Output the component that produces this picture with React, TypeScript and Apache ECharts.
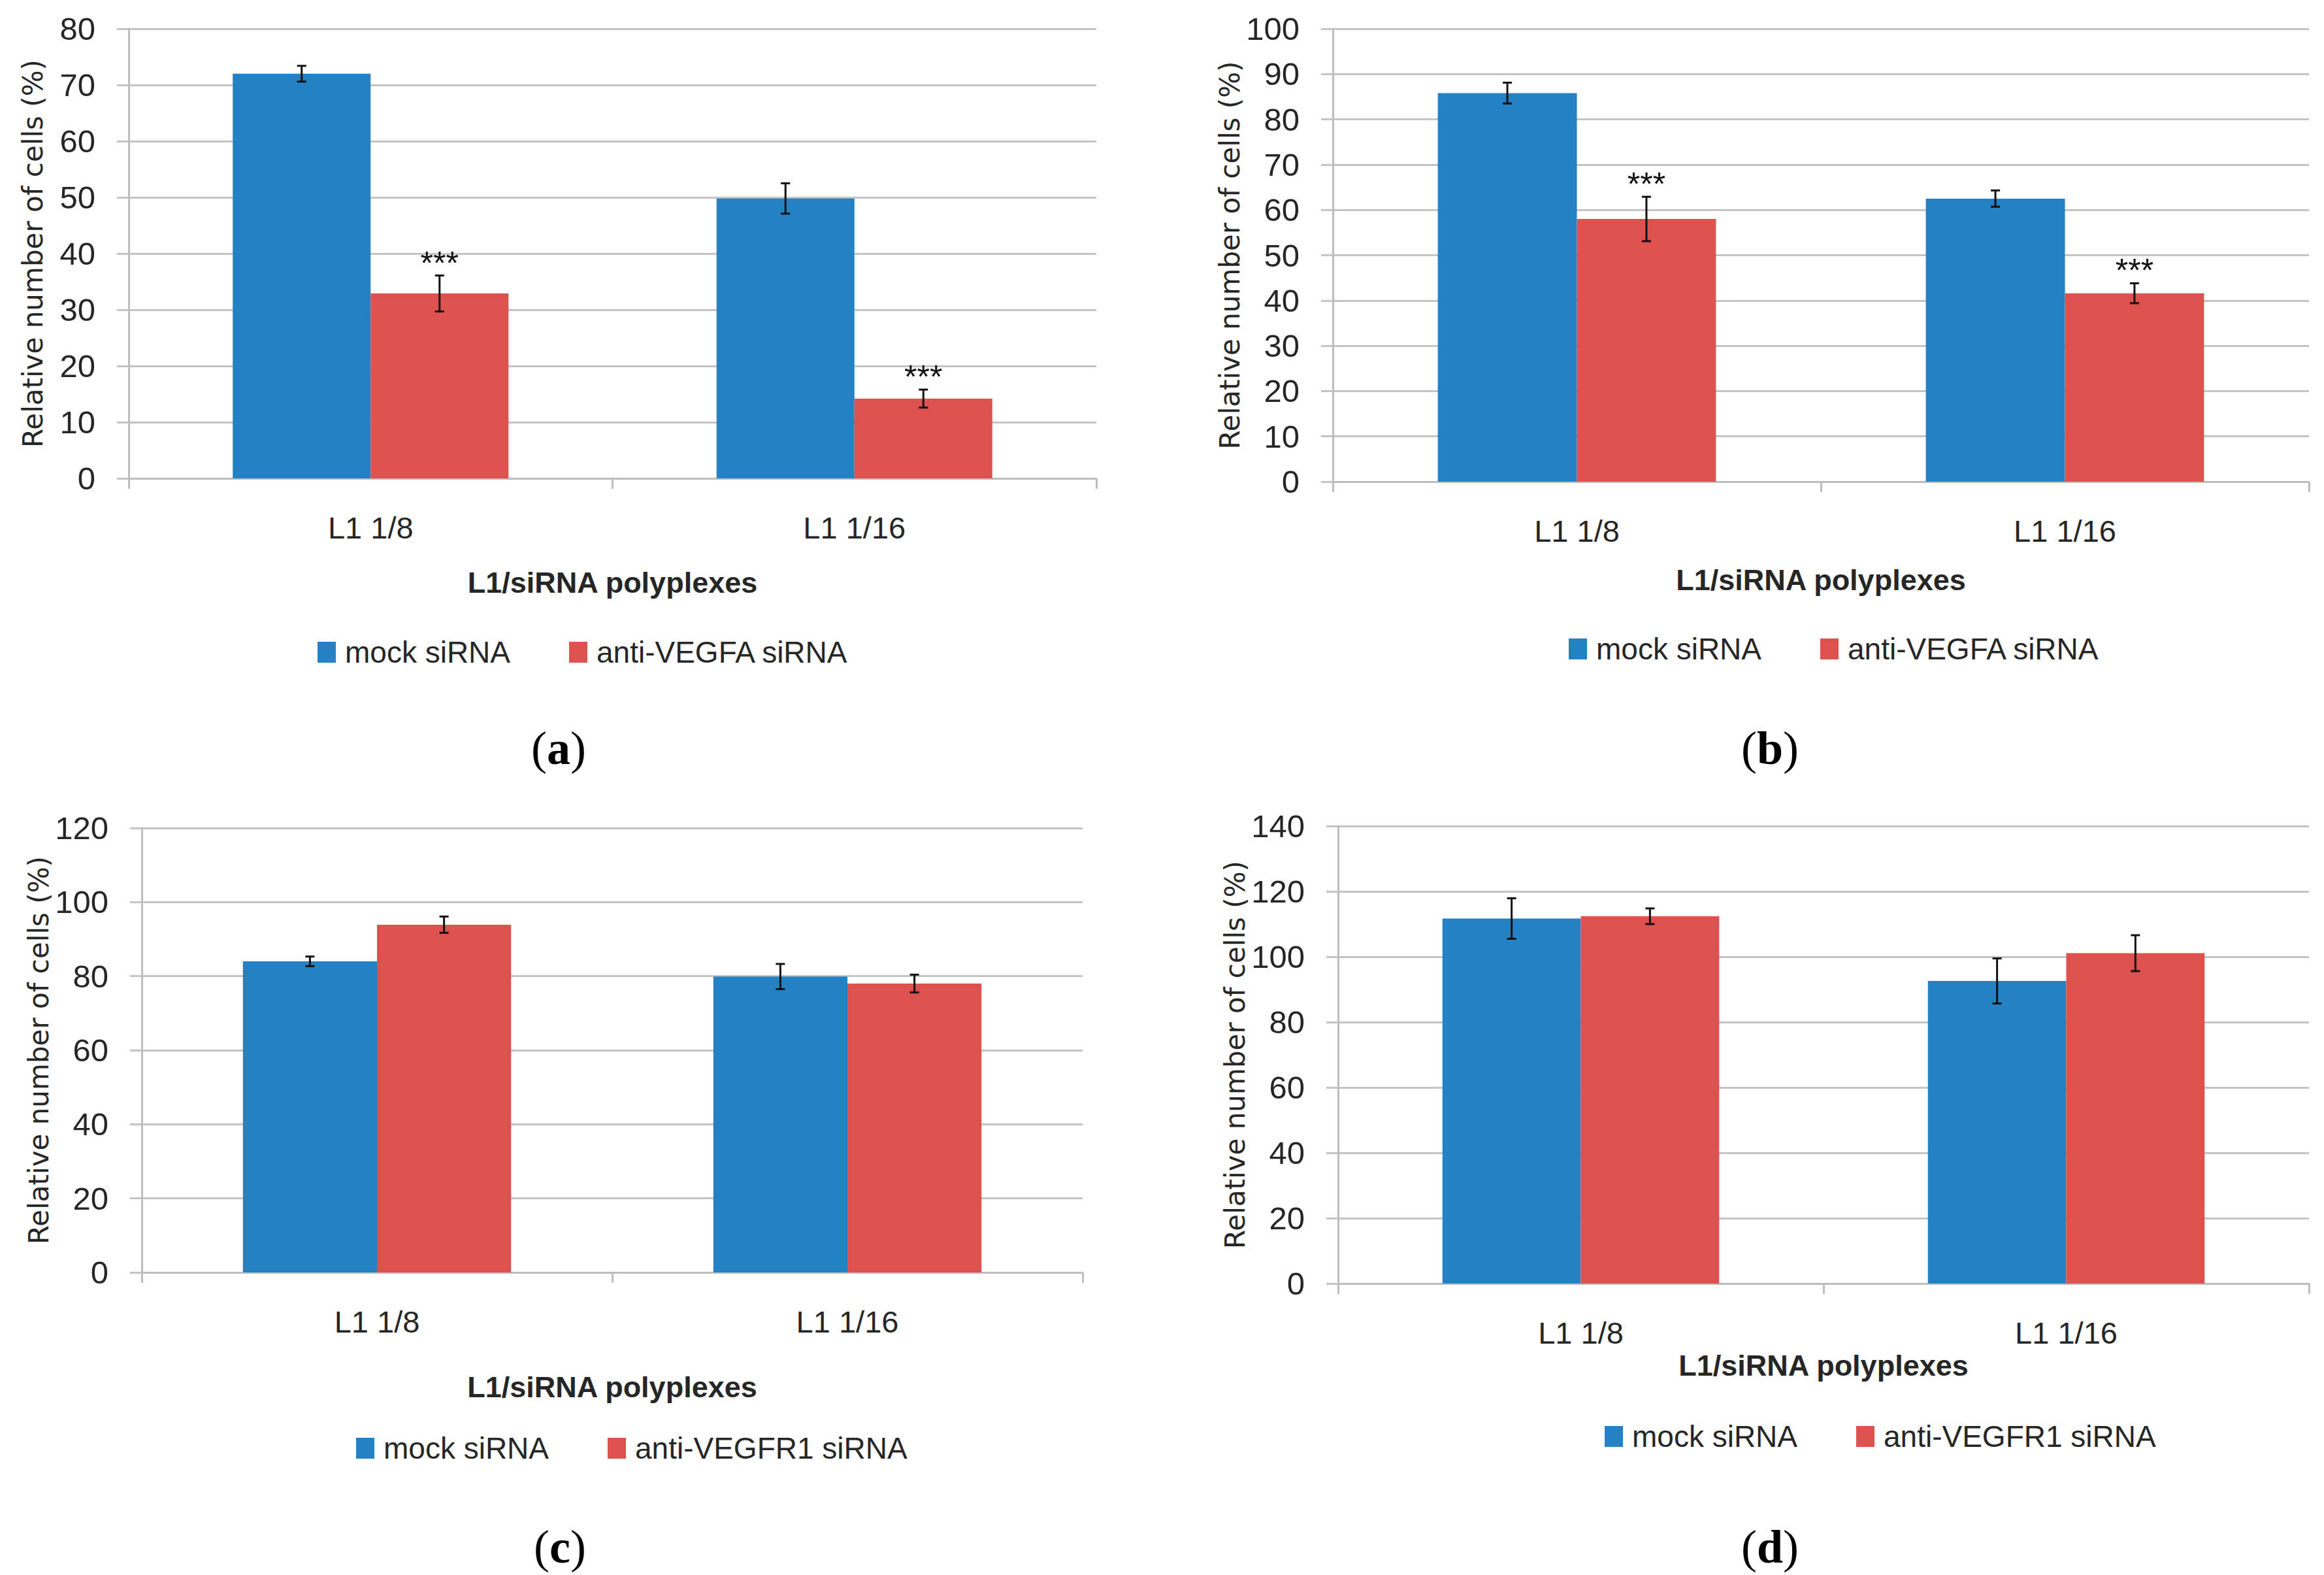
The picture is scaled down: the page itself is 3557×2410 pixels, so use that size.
import React, { useEffect, useRef } from "react";
import * as echarts from "echarts";

const categories = ["L1 1/8", "L1 1/16"];

const mockA = [72.0, 49.8];
const antiA = [32.9, 14.2];
const mockAErr = [1.4, 2.7];
const antiAErr = [3.2, 1.6];
const sigA = ["***", "***"];

const mockB = [85.8, 62.5];
const antiB = [58.0, 41.6];
const mockBErr = [2.3, 1.8];
const antiBErr = [4.9, 2.2];
const sigB = ["***", "***"];

const mockC = [84.0, 79.9];
const antiC = [93.9, 78.0];
const mockCErr = [1.3, 3.4];
const antiCErr = [2.2, 2.4];
const sigC = ["", ""];

const mockD = [111.7, 92.6];
const antiD = [112.4, 101.1];
const mockDErr = [6.2, 6.9];
const antiDErr = [2.4, 5.5];
const sigD = ["", ""];

const yMax = [80, 100, 120, 140];
const yInterval = [10, 10, 20, 20];
const mockName = "mock siRNA";
const antiNames = ["anti-VEGFA siRNA", "anti-VEGFA siRNA", "anti-VEGFR1 siRNA", "anti-VEGFR1 siRNA"];
const panelLetters = ["a", "b", "c", "d"];
const yAxisName = "Relative number of cells (%)";
const xAxisName = "L1/siRNA polyplexes";

const BLUE = "#2481C3";
const RED = "#DD514E";
const NARROW = "'Liberation Sans', Arial, sans-serif";
const WIDE = "'DejaVu Sans', Verdana, sans-serif";
const TXT = "#262626";

const panels = [
  { mock: mockA, anti: antiA, mockErr: mockAErr, antiErr: antiAErr, sig: sigA },
  { mock: mockB, anti: antiB, mockErr: mockBErr, antiErr: antiBErr, sig: sigB },
  { mock: mockC, anti: antiC, mockErr: mockCErr, antiErr: antiCErr, sig: sigC },
  { mock: mockD, anti: antiD, mockErr: mockDErr, antiErr: antiDErr, sig: sigD },
];

// layout (pixels)
const grids = [
  { left: 197, top: 44, width: 1481, height: 688 },
  { left: 2040, top: 44, width: 1494, height: 693 },
  { left: 217, top: 1267, width: 1440, height: 680 },
  { left: 2048, top: 1264, width: 1486, height: 700 },
];
const xNameGap = [137, 128, 153, 103];
const yNameGap = [126, 119, 134, 134];
const legendPos = [
  { left: 486, top: 975 },
  { left: 2401, top: 970 },
  { left: 545, top: 2193 },
  { left: 2456, top: 2175 },
];
const letterPos = [
  { x: 855, y: 1145 },
  { x: 2709, y: 1145 },
  { x: 857, y: 2367 },
  { x: 2709, y: 2367 },
];
const CAT_GAP = 0.43;

export default function App() {
  const ref = useRef<HTMLDivElement>(null);
  useEffect(() => {
    if (!ref.current) return;
    const chart = echarts.init(ref.current, undefined, { renderer: "svg" });

    const series: any[] = [];
    panels.forEach((p, i) => {
      series.push({
        type: "bar",
        name: mockName,
        xAxisIndex: i,
        yAxisIndex: i,
        data: p.mock,
        barGap: "0%",
        barCategoryGap: CAT_GAP * 100 + "%",
        itemStyle: { color: BLUE },
      });
      series.push({
        type: "bar",
        name: antiNames[i],
        xAxisIndex: i,
        yAxisIndex: i,
        data: p.anti,
        barGap: "0%",
        barCategoryGap: CAT_GAP * 100 + "%",
        itemStyle: { color: RED },
      });
      const errData: any[] = [];
      const sigs: string[] = [];
      p.mock.forEach((v, k) => {
        errData.push([k, v, p.mockErr[k], 0]);
        sigs.push("");
      });
      p.anti.forEach((v, k) => {
        errData.push([k, v, p.antiErr[k], 1]);
        sigs.push(p.sig[k]);
      });
      series.push({
        type: "custom",
        xAxisIndex: i,
        yAxisIndex: i,
        data: errData,
        z: 10,
        silent: true,
        renderItem: (params: any, api: any) => {
          const cat = api.value(0);
          const val = api.value(1);
          const err = api.value(2);
          const sidx = api.value(3);
          const band = api.size([1, 0])[0];
          const bw = (band * (1 - CAT_GAP)) / 2;
          const cx = api.coord([cat, val])[0] + (sidx === 0 ? -bw / 2 : bw / 2);
          const yTop = api.coord([cat, val + err])[1];
          const yBot = api.coord([cat, val - err])[1];
          const cap = 7;
          const st = { stroke: "#111", lineWidth: 3 };
          const children: any[] = [
            { type: "line", shape: { x1: cx, y1: yTop, x2: cx, y2: yBot }, style: st },
            { type: "line", shape: { x1: cx - cap, y1: yTop, x2: cx + cap, y2: yTop }, style: st },
            { type: "line", shape: { x1: cx - cap, y1: yBot, x2: cx + cap, y2: yBot }, style: st },
          ];
          const s = sigs[params.dataIndex];
          if (s) {
            children.push({
              type: "text",
              style: {
                x: cx,
                y: yTop + 6,
                text: s,
                fill: "#111",
                font: `50px ${NARROW}`,
                align: "center",
                verticalAlign: "bottom",
              },
            });
          }
          return { type: "group", children };
        },
      });
    });

    const option: any = {
      animation: false,
      backgroundColor: "#ffffff",
      grid: grids.map((g) => ({ ...g, containLabel: false })),
      xAxis: grids.map((_, i) => ({
        type: "category",
        gridIndex: i,
        data: categories,
        name: xAxisName,
        nameLocation: "middle",
        nameGap: xNameGap[i],
        nameTextStyle: { fontFamily: NARROW, fontSize: 45, fontWeight: "bold", color: TXT },
        axisLine: { show: true, lineStyle: { color: "#bdbdbd", width: 3 } },
        axisTick: { show: true, length: 16, lineStyle: { color: "#bdbdbd", width: 3 } },
        axisLabel: { margin: 52, fontFamily: NARROW, fontSize: 47, color: TXT },
        splitLine: { show: false },
      })),
      yAxis: grids.map((_, i) => ({
        type: "value",
        gridIndex: i,
        min: 0,
        max: yMax[i],
        interval: yInterval[i],
        name: yAxisName,
        nameLocation: "middle",
        nameRotate: 90,
        nameGap: yNameGap[i],
        nameTextStyle: { fontFamily: WIDE, fontSize: 42, color: TXT },
        axisLine: { show: true, lineStyle: { color: "#bdbdbd", width: 3 } },
        axisTick: { show: true, length: 18, lineStyle: { color: "#c4c4c4", width: 3 } },
        axisLabel: { margin: 51, fontFamily: NARROW, fontSize: 49, color: TXT },
        splitLine: { show: true, lineStyle: { color: "#c4c4c4", width: 3 } },
      })),
      legend: legendPos.map((lp, i) => ({
        left: lp.left,
        top: lp.top,
        orient: "horizontal",
        padding: 0,
        itemGap: 90,
        itemWidth: 28,
        itemHeight: 32,
        icon: "rect",
        data: [mockName, antiNames[i]],
        textStyle: { fontFamily: NARROW, fontSize: 46, color: TXT, padding: [0, 0, 0, 9] },
      })),
      graphic: letterPos.map((lp, i) => ({
        type: "text",
        x: lp.x,
        y: lp.y,
        style: {
          text: `{p|(}{b|${panelLetters[i]}}{p|)}`,
          align: "center",
          verticalAlign: "middle",
          rich: {
            p: { fontFamily: "'Liberation Serif', 'Times New Roman', serif", fontSize: 72, fill: "#000" },
            b: { fontFamily: "'Liberation Serif', 'Times New Roman', serif", fontSize: 72, fontWeight: "bold", fill: "#000" },
          },
        },
      })),
      series,
    };
    chart.setOption(option);
    return () => chart.dispose();
  }, []);
  return (
    <div
      ref={ref}
      style={{ position: "fixed", left: 0, top: 0, width: 3557, height: 2410, background: "#fff" }}
    />
  );
}
